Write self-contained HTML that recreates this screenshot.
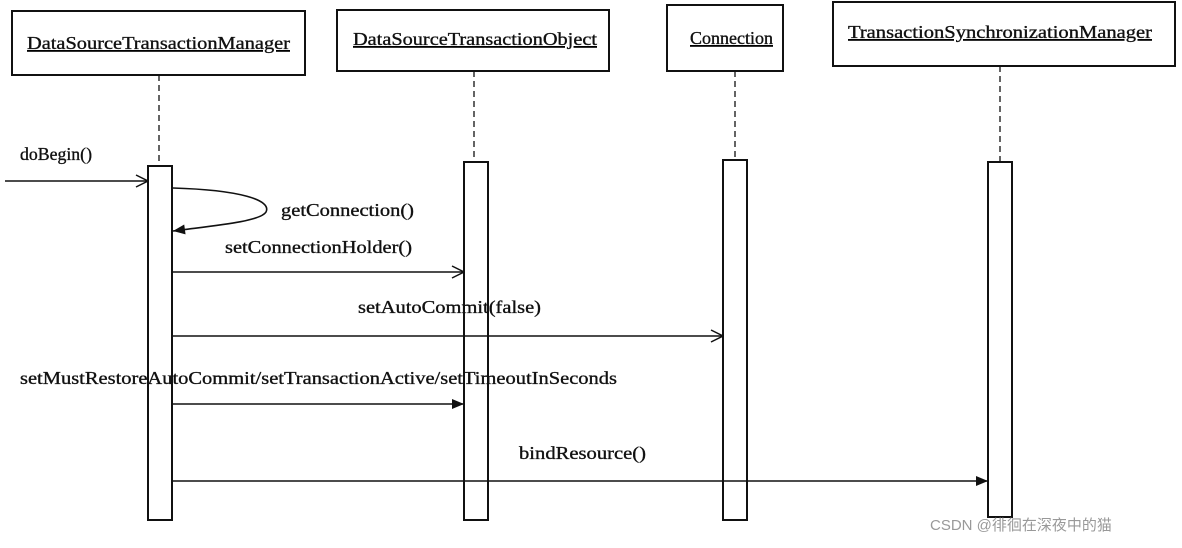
<!DOCTYPE html>
<html><head><meta charset="utf-8"><style>
body{margin:0;background:#fff;width:1182px;height:543px;overflow:hidden}
text{font-family:"Liberation Serif",serif;font-size:18px;fill:#111;stroke:#111;stroke-width:0.35}
</style></head><body>
<svg width="1182" height="543" xmlns="http://www.w3.org/2000/svg">
<defs>
<marker id="o" markerWidth="14" markerHeight="14" refX="13" refY="7" orient="auto" markerUnits="userSpaceOnUse"><path d="M1,1 L13,7 L1,13" fill="none" stroke="#111" stroke-width="1.5"/></marker>
<marker id="f" markerWidth="14" markerHeight="14" refX="13" refY="7" orient="auto" markerUnits="userSpaceOnUse"><path d="M1,2 L13,7 L1,12 Z" fill="#111"/></marker>
</defs>
<g fill="#fff" stroke="#111" stroke-width="2">
<rect x="12" y="11" width="293" height="64"/>
<rect x="337" y="10" width="272" height="61"/>
<rect x="667" y="5" width="116" height="66"/>
<rect x="833" y="2" width="342" height="64"/>
</g>
<g text-decoration="underline">
<text x="27" y="49" textLength="263" lengthAdjust="spacingAndGlyphs">DataSourceTransactionManager</text>
<text x="353" y="45" textLength="244" lengthAdjust="spacingAndGlyphs">DataSourceTransactionObject</text>
<text x="690" y="44" textLength="83" lengthAdjust="spacingAndGlyphs">Connection</text>
<text x="848" y="38" textLength="304" lengthAdjust="spacingAndGlyphs">TransactionSynchronizationManager</text>
</g>
<g stroke="#111" stroke-width="1.3" stroke-dasharray="6,4">
<line x1="159" y1="75" x2="159" y2="166"/>
<line x1="474" y1="71" x2="474" y2="162"/>
<line x1="735" y1="71" x2="735" y2="160"/>
<line x1="1000" y1="66" x2="1000" y2="162"/>
</g>
<g fill="#fff" stroke="#111" stroke-width="2">
<rect x="148" y="166" width="24" height="354"/>
<rect x="464" y="162" width="24" height="358"/>
<rect x="723" y="160" width="24" height="360"/>
<rect x="988" y="162" width="24" height="355"/>
</g>
<g stroke="#111" stroke-width="1.6" fill="none">
<line x1="5" y1="181" x2="148" y2="181" marker-end="url(#o)"/>
<path d="M173,188 C240,190 272,200 266,212 C260,222 210,226 173,231" marker-end="url(#f)"/>
<line x1="172" y1="272" x2="464" y2="272" marker-end="url(#o)"/>
<line x1="172" y1="336" x2="723" y2="336" marker-end="url(#o)"/>
<line x1="172" y1="404" x2="464" y2="404" marker-end="url(#f)"/>
<line x1="172" y1="481" x2="988" y2="481" marker-end="url(#f)"/>
</g>
<text x="20" y="160" textLength="72" lengthAdjust="spacingAndGlyphs">doBegin()</text>
<text x="281" y="216" textLength="133" lengthAdjust="spacingAndGlyphs">getConnection()</text>
<text x="225" y="253" textLength="187" lengthAdjust="spacingAndGlyphs">setConnectionHolder()</text>
<text x="358" y="313" textLength="183" lengthAdjust="spacingAndGlyphs">setAutoCommit(false)</text>
<text x="20" y="384" textLength="597" lengthAdjust="spacingAndGlyphs">setMustRestoreAutoCommit/setTransactionActive/setTimeoutInSeconds</text>
<text x="519" y="459" textLength="127" lengthAdjust="spacingAndGlyphs">bindResource()</text>
<text x="930" y="530" style="font-family:'Liberation Sans','Noto Sans CJK SC',sans-serif;font-size:15px;fill:#999;stroke:none">CSDN @徘徊在深夜中的猫</text>
</svg>
</body></html>
